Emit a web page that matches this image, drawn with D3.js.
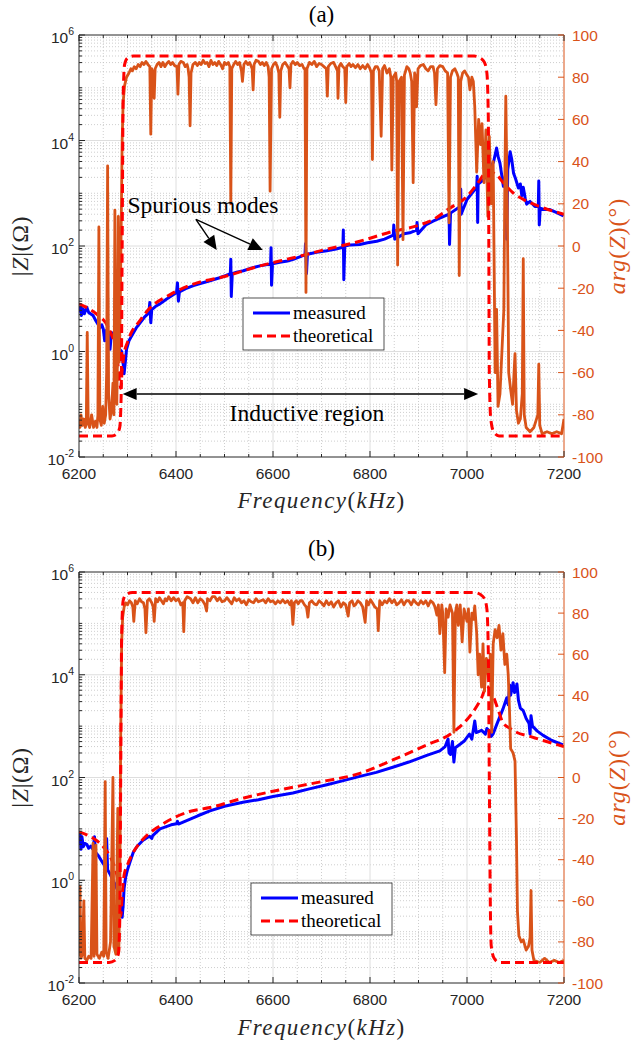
<!DOCTYPE html>
<html>
<head>
<meta charset="utf-8">
<script src="https://cdn.jsdelivr.net/npm/d3@7"></script>
<style>
  body { margin: 0; background: #fff; }
  svg { display: block; }
</style>
</head>
<body>
<svg id="fig" width="633" height="1047"></svg>
<script>
// ---------- Frequency axis ----------
const freqDomain = [6200, 7200];
const freqMajorTicks = [6200, 6400, 6600, 6800, 7000, 7200];
const magExpTicks = [-2, 0, 2, 4, 6];
const phaseTicks = [-100, -80, -60, -40, -20, 0, 20, 40, 60, 80, 100];
const seriesNames = ["measured", "theoretical"];

// ---------- Panel (a): |Z| in ohms, [kHz, ohm] ----------
const measMagA = [
  [6200, 5.5], [6203, 7.0], [6205, 4.8], [6208, 6.5], [6211, 5.2], [6216, 6.9], [6220, 5.5],
  [6229, 4.8], [6235, 3.8], [6240, 3.2], [6243, 2.8], [6247, 3.2], [6250, 2.7], [6253, 1.6],
  [6256, 2.5], [6260, 2.4], [6264, 1.1], [6267, 2.3], [6272, 2.0], [6276, 1.6], [6280, 1.7],
  [6284, 1.1], [6288, 1.0], [6291, 0.6], [6293, 0.38], [6296, 0.7], [6298, 1.1], [6303, 1.6],
  [6309, 2.0], [6318, 2.8], [6326, 3.5], [6336, 4.6], [6344, 5.4], [6346, 8.5], [6348, 3.5],
  [6350, 6.2], [6358, 7.2], [6367, 8.0], [6380, 9.8], [6395, 12], [6401, 13], [6403, 20],
  [6405, 9], [6407, 13.5], [6420, 15.5], [6436, 17.8], [6450, 19.5], [6470, 22], [6490, 25],
  [6505, 28], [6512, 30], [6513, 56], [6514, 11], [6516, 30], [6525, 32], [6539, 34],
  [6555, 38], [6573, 42], [6585, 44], [6595, 45], [6596, 93], [6597, 18], [6599, 46],
  [6614, 49], [6630, 52], [6642, 56], [6655, 62], [6666, 68], [6667, 110], [6669, 30],
  [6671, 70], [6690, 76], [6711, 81], [6730, 88], [6744, 95], [6745, 200], [6746, 23],
  [6748, 100], [6760, 105], [6779, 107], [6795, 115], [6814, 123], [6830, 135], [6848, 160],
  [6849, 250], [6851, 135], [6870, 170], [6882, 178], [6896, 200], [6897, 280], [6899, 170],
  [6915, 250], [6930, 295], [6945, 340], [6963, 400], [6964, 107], [6966, 420], [6986, 560],
  [6987, 1200], [6988, 400], [7000, 760], [7010, 1000], [7020, 1300], [7021, 2100],
  [7022, 280], [7023, 1500], [7034, 1800], [7047, 2800], [7055, 4000], [7061, 7200],
  [7064, 5000], [7068, 3700], [7075, 1350], [7080, 2400], [7082, 135], [7084, 2800],
  [7089, 6100], [7092, 4500], [7096, 2400], [7100, 1900], [7106, 1260], [7110, 1500],
  [7113, 900], [7116, 1300], [7120, 800], [7123, 620], [7130, 700], [7140, 560], [7147, 560],
  [7148, 1700], [7149, 250], [7151, 520], [7160, 490], [7171, 490], [7185, 430], [7199, 370]
];
const theoMagA = [
  [6200, 8], [6220, 6.5], [6240, 4.8], [6255, 3.5], [6265, 2.3], [6275, 1.2], [6280, 0.6],
  [6284, 0.25], [6286, 0.2], [6289, 0.45], [6293, 0.9], [6300, 1.5], [6310, 2.5], [6320, 3.3],
  [6345, 6.5], [6388, 12], [6436, 19], [6504, 27], [6573, 42], [6642, 60], [6711, 87],
  [6779, 123], [6848, 190], [6896, 240], [6930, 316], [6965, 525], [7000, 870], [7027, 1800],
  [7038, 2500], [7044, 2630], [7052, 2500], [7061, 2240], [7075, 1580], [7096, 1000],
  [7123, 710], [7158, 525], [7200, 400]
];
// ---------- Panel (a): arg(Z) in degrees, [kHz, deg] ----------
const measPhaseA = [
  [6200, -84], [6202, -86], [6204, -80], [6207, -85], [6210, -82], [6213, -86], [6215, -84],
  [6217, -41], [6219, -84], [6222, -86], [6226, -80], [6230, -86], [6234, -83], [6237, -86],
  [6239, -80], [6241, 9], [6243, -82], [6246, -85], [6249, -76], [6252, -84], [6255, -80],
  [6257, -60], [6259, 38], [6261, -70], [6264, -82], [6267, -78], [6270, -65], [6272, -80],
  [6274, 17], [6276, -60], [6278, -75], [6280, -40], [6281, 14], [6283, -55], [6285, -30],
  [6287, 10], [6289, 50], [6291, 68], [6294, 76], [6298, 80], [6303, 82], [6307, 84],
  [6310, 83], [6314, 85], [6318, 84], [6322, 86], [6326, 85], [6330, 87], [6334, 86],
  [6338, 87.5], [6342, 86], [6346, 85], [6348, 53], [6350, 84], [6353, 82], [6355, 70],
  [6357, 84], [6361, 86], [6365, 87], [6369, 85], [6373, 87], [6377, 85], [6381, 86.5],
  [6385, 87.5], [6389, 86], [6393, 87], [6397, 85.5], [6402, 85], [6404, 72], [6406, 86],
  [6410, 87.5], [6415, 87], [6419, 85], [6423, 86], [6425, 84], [6427, 80], [6429, 57],
  [6431, 82], [6435, 86], [6440, 87], [6444, 85.5], [6448, 87], [6452, 86], [6456, 88],
  [6460, 86.5], [6464, 87], [6468, 85], [6472, 88], [6476, 86], [6480, 87], [6484, 85.5],
  [6488, 87.5], [6492, 86], [6496, 84], [6500, 87], [6504, 86], [6508, 87], [6511, 85],
  [6513, 20], [6515, 84], [6519, 86], [6523, 87.5], [6527, 86], [6531, 87], [6535, 83],
  [6537, 78], [6540, 86], [6544, 87.5], [6548, 86], [6552, 87], [6557, 84], [6559, 74],
  [6561, 86], [6565, 88], [6570, 87.5], [6574, 86], [6578, 87], [6582, 85.5], [6586, 87],
  [6590, 85], [6592, 80], [6594, 26], [6597, 84], [6601, 86], [6605, 87], [6609, 85],
  [6612, 82], [6614, 61], [6616, 83], [6620, 86], [6625, 87], [6629, 85.5], [6633, 84],
  [6635, 75], [6637, 86], [6641, 87.5], [6646, 86], [6650, 87], [6655, 85.5], [6660, 86],
  [6664, 84], [6666, 84], [6668, -22], [6670, 84], [6675, 87], [6680, 86], [6685, 87.5],
  [6690, 85], [6695, 86.5], [6700, 86], [6705, 85], [6710, 84], [6712, 71], [6714, 85],
  [6719, 86.5], [6725, 87], [6729, 85], [6733, 83], [6734, 70], [6736, 85], [6740, 86.5],
  [6744, 85], [6748, 84], [6750, 68], [6752, 85], [6757, 86.5], [6761, 85], [6765, 86],
  [6770, 84.5], [6775, 86], [6780, 84], [6785, 85.5], [6790, 84], [6795, 86], [6799, 84.5],
  [6803, 82], [6805, 41], [6807, 83], [6811, 85], [6815, 85], [6819, 83], [6823, 52],
  [6826, 84], [6830, 85.5], [6835, 82], [6840, 84], [6843, 80], [6845, 36], [6848, 80],
  [6853, 82], [6855, 78], [6857, -9], [6860, 78], [6865, 80], [6868, 3], [6871, 81],
  [6876, 85], [6880, 84], [6883, 82], [6886, 78], [6889, 30], [6892, 82], [6894, 80],
  [6896, 66], [6899, 84], [6904, 85.5], [6910, 86], [6915, 84], [6920, 83], [6925, 85],
  [6930, 85], [6933, 82], [6936, 67], [6939, 84], [6944, 85.5], [6950, 85], [6955, 83],
  [6960, 82], [6963, 11], [6966, 80], [6970, 83], [6975, 84], [6979, 82], [6982, 80],
  [6984, -14], [6987, 78], [6991, 82], [6995, 83], [7000, 81], [7003, 80], [7006, 74],
  [7010, 80], [7013, 78], [7016, 66], [7020, 35], [7024, 60],
  [7028, 48], [7031, 58], [7035, 30], [7039, 55], [7043, 14], [7046, 52], [7050, 20],
  [7054, 40], [7058, -60], [7061, -30], [7064, -76], [7068, -70], [7072, -50], [7076, -30],
  [7078, 30], [7080, 71], [7083, 20], [7086, -60], [7090, -68], [7094, -75], [7097, -60],
  [7099, -51], [7102, -78], [7106, -84], [7110, -82], [7114, -70], [7116, -6], [7118, -80],
  [7122, -86], [7130, -88], [7138, -86], [7146, -80], [7148, -56], [7150, -85], [7155, -89],
  [7165, -88], [7175, -89], [7185, -88], [7195, -89], [7200, -82]
];
const theoPhaseA = [
  [6200, -90], [6268, -90], [6278, -89], [6284, -86], [6287, -70], [6289, 0], [6291, 70],
  [6294, 86], [6300, 89], [6312, 90], [7015, 90], [7028, 89], [7036, 87], [7041, 82],
  [7044, 60], [7045, 0], [7046, -60], [7049, -82], [7055, -88], [7066, -90], [7200, -90]
];

// ---------- Panel (b) ----------
const measMagB = [
  [6200, 5.6], [6202, 8], [6204, 4], [6206, 7], [6209, 4.5], [6212, 5.2], [6216, 5.0],
  [6220, 4.2], [6224, 4.6], [6229, 4.0], [6232, 7.0], [6234, 3.5], [6240, 3.0], [6245, 2.5],
  [6250, 2.1], [6255, 1.8], [6257, 6.5], [6259, 1.6], [6265, 1.26], [6270, 1.0], [6275, 0.8],
  [6280, 0.63], [6284, 0.4], [6287, 0.25], [6289, 0.19], [6291, 0.32], [6293, 0.7],
  [6296, 1.12], [6300, 1.6], [6306, 2.4], [6312, 3.5], [6320, 4.6], [6332, 6.0], [6345, 7.2],
  [6350, 6.5], [6352, 7.4], [6367, 10], [6390, 12], [6401, 12.6], [6403, 14], [6405, 12.4],
  [6422, 14.5], [6445, 18], [6470, 22.4], [6500, 27.5], [6538, 33], [6570, 37], [6600, 42.7],
  [6641, 50], [6675, 60], [6711, 72], [6745, 87], [6779, 105], [6813, 126], [6847, 158],
  [6880, 200], [6917, 270], [6944, 330], [6955, 400], [6961, 560], [6963, 300], [6966, 280],
  [6970, 500], [6973, 200], [6976, 380], [6985, 440], [6995, 520], [7005, 700], [7010, 560],
  [7016, 1260], [7019, 750], [7030, 830], [7038, 700], [7041, 900], [7045, 830], [7050, 630],
  [7054, 710], [7062, 1120], [7074, 2140], [7082, 3550], [7085, 2600], [7088, 6300],
  [7090, 4000], [7095, 7000], [7098, 4500], [7100, 5000], [7103, 6600], [7106, 3200],
  [7110, 2240], [7116, 2000], [7122, 1410], [7128, 1120], [7130, 700], [7132, 1600],
  [7135, 1000], [7145, 800], [7157, 660], [7175, 525], [7198, 430]
];
const theoMagB = [
  [6200, 8.7], [6230, 6.5], [6250, 4.5], [6265, 2.8], [6275, 1.6], [6280, 1.0], [6284, 0.4],
  [6286, 0.2], [6289, 0.5], [6293, 1.26], [6300, 2.0], [6312, 3.5], [6330, 6.0], [6367, 11.5],
  [6430, 22], [6470, 26], [6540, 40], [6600, 54], [6700, 83], [6779, 120], [6847, 220],
  [6917, 430], [6971, 760], [7012, 1860], [7030, 3550], [7041, 6000], [7048, 5000],
  [7054, 3800], [7065, 2000], [7074, 1170], [7090, 890], [7102, 760], [7130, 630],
  [7157, 525], [7200, 400]
];
const measPhaseB = [
  [6200, -87], [6202, -53], [6204, -88], [6207, -86], [6210, -60], [6212, -88], [6216, -89],
  [6220, -87], [6225, -88], [6229, -32], [6231, -87], [6235, -33], [6237, -86], [6242, -88],
  [6247, -85], [6251, -87], [6254, -2], [6256, -85], [6260, -88], [6265, -80], [6270, 0],
  [6272, -82], [6276, -86], [6280, -15], [6282, -85], [6284, -60], [6286, 20], [6288, 66],
  [6290, 78], [6293, 83], [6296, 85], [6300, 84], [6304, 86], [6308, 85], [6311, 83],
  [6313, 76], [6316, 86], [6320, 84.5], [6325, 87], [6329, 85.5], [6333, 85], [6336, 82],
  [6338, 70.5], [6341, 86], [6345, 87], [6350, 85], [6353, 83], [6355, 76], [6358, 87],
  [6362, 85.5], [6366, 87.5], [6370, 86], [6374, 84.5], [6378, 87], [6381, 86], [6385, 88],
  [6390, 86], [6395, 87.5], [6400, 86], [6405, 87], [6410, 84], [6414, 85], [6416, 71],
  [6418, 86], [6423, 88], [6430, 87], [6435, 85], [6440, 87.5], [6445, 85], [6450, 87],
  [6455, 86], [6460, 84], [6463, 81], [6465, 87], [6470, 86], [6475, 88], [6480, 88],
  [6485, 86], [6490, 87.5], [6495, 85.5], [6500, 86], [6505, 87.5], [6510, 86], [6515, 84.5],
  [6520, 87.5], [6525, 86], [6530, 87], [6535, 85], [6540, 86], [6545, 84], [6550, 86.5],
  [6555, 85.5], [6560, 85], [6565, 87], [6570, 85.5], [6575, 86], [6580, 86.5], [6585, 85],
  [6590, 87], [6595, 85.5], [6600, 86], [6605, 84.5], [6610, 86], [6615, 85], [6620, 86.5],
  [6625, 85], [6630, 86], [6635, 84], [6638, 86], [6641, 74.5], [6644, 85], [6648, 86],
  [6652, 84.5], [6656, 86], [6660, 86], [6665, 84], [6669, 83], [6672, 78], [6675, 85],
  [6680, 86], [6685, 84.5], [6690, 84], [6695, 86], [6700, 85], [6705, 83.5], [6710, 86],
  [6715, 84], [6720, 85.5], [6725, 83], [6730, 85], [6735, 86], [6740, 83], [6745, 85],
  [6750, 84], [6755, 78.5], [6758, 85], [6763, 86], [6767, 83.5], [6770, 84], [6775, 86],
  [6780, 85], [6785, 83], [6790, 75.5], [6793, 86], [6797, 84], [6801, 86.5], [6805, 85],
  [6810, 83], [6815, 82], [6817, 71.5], [6820, 86], [6825, 84], [6830, 86], [6835, 85],
  [6840, 87], [6845, 85], [6850, 86.5], [6855, 84], [6860, 85], [6865, 86.5], [6870, 84],
  [6875, 86], [6880, 86], [6885, 84], [6890, 86.5], [6895, 85], [6900, 84], [6905, 86],
  [6910, 84.5], [6915, 86], [6920, 83.5], [6925, 86], [6930, 85], [6934, 83], [6938, 79],
  [6941, 84], [6944, 70], [6948, 84], [6950, 80], [6954, 51], [6957, 82], [6961, 78],
  [6965, 84], [6970, 80], [6973, 22], [6976, 80], [6979, 84], [6982, 74], [6986, 84],
  [6990, 66], [6994, 82], [7000, 76], [7003, 82], [7006, 61], [7010, 80], [7013, 77],
  [7016, 83.5], [7020, 70], [7023, 50], [7026, 60],
  [7030, 44], [7033, 65], [7036, 42], [7040, 58], [7045, 48], [7048, 60], [7051, 22],
  [7054, 65], [7058, 72], [7062, 68], [7066, 74], [7070, 62], [7074, 70], [7078, 55],
  [7082, 60], [7085, 50], [7088, 30], [7090, 14], [7095, 12], [7099, 8], [7102, -30],
  [7104, -65], [7107, -77], [7112, -80], [7116, -79], [7122, -84], [7127, -82], [7130, -78],
  [7132, -55], [7134, -84], [7138, -89], [7150, -90], [7160, -88], [7170, -90], [7180, -89],
  [7190, -90], [7200, -89]
];
const theoPhaseB = [
  [6200, -90], [6262, -90], [6274, -89], [6281, -86], [6284, -70], [6286, 0], [6288, 70],
  [6291, 86], [6297, 89], [6310, 90], [7015, 90], [7028, 89], [7036, 87], [7041, 82],
  [7044, 60], [7046, 0], [7048, -60], [7050, -82], [7056, -88], [7066, -90], [7200, -90]
];

// ---------- Drawing ----------
const COL = { blue: "#0000ff", red: "#ff0000", orange: "#d95319", ink: "#262626" };
const SANS = "'Liberation Sans', Arial, sans-serif";
const SERIF = "'Liberation Serif', 'Times New Roman', serif";
const svg = d3.select("#fig");
svg.append("rect").attr("width", 633).attr("height", 1047).attr("fill", "#fff");

function drawPanel(p) {
  const { left, right, top, bottom, id } = p;
  const g = svg.append("g");
  const x = d3.scaleLinear().domain(freqDomain).range([left, right]);
  const yMag = d3.scaleLog().domain([1e-2, 1e6]).range([bottom, top]);
  const yPh = d3.scaleLinear().domain([-100, 100]).range([bottom, top]);

  // grid: minor dotted, then major solid
  const xMinor = d3.range(6250, 7200, 50).filter(f => f % 200 !== 0);
  const yMinor = [];
  for (let e = -2; e < 6; e++) for (let k = 1; k <= 9; k++) {
    if (k === 1 && e % 2 === 0) continue;
    yMinor.push(k * Math.pow(10, e));
  }
  const grid = g.append("g");
  grid.selectAll(".gxm").data(xMinor).join("line")
    .attr("x1", d => x(d)).attr("x2", d => x(d)).attr("y1", top).attr("y2", bottom)
    .attr("stroke", "#c2c2c2").attr("stroke-width", 0.8).attr("stroke-dasharray", "1,2");
  grid.selectAll(".gym").data(yMinor).join("line")
    .attr("x1", left).attr("x2", right).attr("y1", d => yMag(d)).attr("y2", d => yMag(d))
    .attr("stroke", "#c2c2c2").attr("stroke-width", 0.8).attr("stroke-dasharray", "1,2");
  grid.selectAll(".gx").data(freqMajorTicks.slice(1, -1)).join("line")
    .attr("x1", d => x(d)).attr("x2", d => x(d)).attr("y1", top).attr("y2", bottom)
    .attr("stroke", "#dedede").attr("stroke-width", 1);
  grid.selectAll(".gy").data([1, 1e2, 1e4]).join("line")
    .attr("x1", left).attr("x2", right).attr("y1", d => yMag(d)).attr("y2", d => yMag(d))
    .attr("stroke", "#dedede").attr("stroke-width", 1);

  // data
  const clipId = "clip" + id;
  svg.append("clipPath").attr("id", clipId).append("rect")
    .attr("x", left).attr("y", top - 2).attr("width", right - left).attr("height", bottom - top + 4);
  const data = g.append("g").attr("clip-path", `url(#${clipId})`);
  const lineMag = d3.line().x(d => x(d[0])).y(d => yMag(d[1]));
  const lineMagSmooth = d3.line().x(d => x(d[0])).y(d => yMag(d[1])).curve(d3.curveMonotoneX);
  const linePh = d3.line().x(d => x(d[0])).y(d => yPh(d[1]));
  const linePhSmooth = d3.line().x(d => x(d[0])).y(d => yPh(d[1])).curve(d3.curveMonotoneX);

  data.append("path").attr("d", lineMag(p.measMag)).attr("fill", "none")
    .attr("stroke", COL.blue).attr("stroke-width", 3).attr("stroke-linejoin", "round");
  data.append("path").attr("d", lineMagSmooth(p.theoMag)).attr("fill", "none")
    .attr("stroke", COL.red).attr("stroke-width", 3).attr("stroke-dasharray", "9,5");
  data.append("path").attr("d", linePh(p.measPhase)).attr("fill", "none")
    .attr("stroke", COL.orange).attr("stroke-width", 2.8).attr("stroke-linejoin", "round");
  data.append("path").attr("d", linePhSmooth(p.theoPhase)).attr("fill", "none")
    .attr("stroke", COL.red).attr("stroke-width", 3).attr("stroke-dasharray", "9,5");

  // axes box
  const ax = g.append("g");
  ax.append("line").attr("x1", left).attr("x2", right).attr("y1", bottom).attr("y2", bottom).attr("stroke", COL.ink);
  ax.append("line").attr("x1", left).attr("x2", right).attr("y1", top).attr("y2", top).attr("stroke", COL.ink);
  ax.append("line").attr("x1", left).attr("x2", left).attr("y1", top).attr("y2", bottom).attr("stroke", COL.ink);
  ax.append("line").attr("x1", right).attr("x2", right).attr("y1", top).attr("y2", bottom).attr("stroke", COL.orange);

  // x ticks (bottom and top, inward)
  const xTickSet = freqMajorTicks.map(v => [v, 6]).concat(xMinor.map(v => [v, 3]));
  xTickSet.forEach(([v, len]) => {
    ax.append("line").attr("x1", x(v)).attr("x2", x(v)).attr("y1", bottom).attr("y2", bottom - len).attr("stroke", COL.ink);
    ax.append("line").attr("x1", x(v)).attr("x2", x(v)).attr("y1", top).attr("y2", top + len).attr("stroke", COL.ink);
  });
  ax.selectAll(".xl").data(freqMajorTicks).join("text")
    .attr("x", d => x(d)).attr("y", bottom + 22).attr("text-anchor", "middle")
    .attr("font-family", SANS).attr("font-size", 15.5).attr("fill", COL.ink).text(d => d);

  // left log ticks
  magExpTicks.forEach(e => {
    const yy = yMag(Math.pow(10, e));
    ax.append("line").attr("x1", left).attr("x2", left + 6).attr("y1", yy).attr("y2", yy).attr("stroke", COL.ink);
  });
  yMinor.forEach(v => {
    ax.append("line").attr("x1", left).attr("x2", left + 3).attr("y1", yMag(v)).attr("y2", yMag(v)).attr("stroke", COL.ink);
  });
  const ml = ax.selectAll(".yl").data(magExpTicks).join("text")
    .attr("x", left - 5).attr("y", d => yMag(Math.pow(10, d)) + 8).attr("text-anchor", "end")
    .attr("font-family", SANS).attr("font-size", 15.5).attr("fill", COL.ink);
  ml.append("tspan").text("10");
  ml.append("tspan").attr("dy", -8).attr("font-size", 10.5).text(d => d);

  // right phase ticks
  phaseTicks.forEach(v => {
    ax.append("line").attr("x1", right).attr("x2", right - 6).attr("y1", yPh(v)).attr("y2", yPh(v)).attr("stroke", COL.orange);
  });
  ax.selectAll(".pl").data(phaseTicks).join("text")
    .attr("x", right + 8).attr("y", d => yPh(d) + 5.5).attr("text-anchor", "start")
    .attr("font-family", SANS).attr("font-size", 15.5).attr("fill", COL.orange).text(d => d);

  // axis labels
  const xl = g.append("text").attr("x", (left + right) / 2).attr("y", p.xLabelY)
    .attr("text-anchor", "middle").attr("font-family", SERIF).attr("font-size", 23)
    .attr("fill", COL.ink).attr("letter-spacing", 1.4);
  xl.append("tspan").attr("font-style", "italic").text("Frequency");
  xl.append("tspan").text("(");
  xl.append("tspan").attr("font-style", "italic").text("kHz");
  xl.append("tspan").text(")");

  const cy = yMag(100);
  const yl = g.append("text").attr("transform", `translate(20,${cy}) rotate(-90)`)
    .attr("text-anchor", "middle").attr("font-family", SERIF).attr("font-size", 24)
    .attr("fill", COL.ink).attr("dy", 8).attr("letter-spacing", 0.6);
  yl.append("tspan").text("|");
  yl.append("tspan").attr("font-style", "italic").text("Z");
  yl.append("tspan").text("|(Ω)");

  const yr = g.append("text").attr("transform", `translate(617,${cy}) rotate(-90)`)
    .attr("text-anchor", "middle").attr("font-family", SERIF).attr("font-size", 24)
    .attr("fill", COL.orange).attr("dy", 8).attr("letter-spacing", 1);
  yr.append("tspan").attr("font-style", "italic").text("arg");
  yr.append("tspan").text("(");
  yr.append("tspan").attr("font-style", "italic").text("Z");
  yr.append("tspan").text(")(°)");

  // panel title
  g.append("text").attr("x", (left + right) / 2).attr("y", p.titleY).attr("text-anchor", "middle")
    .attr("font-family", SERIF).attr("font-size", 23).attr("fill", "#000").text(p.title);

  // legend
  const lg = g.append("g").attr("transform", `translate(${p.legend[0]},${p.legend[1]})`);
  lg.append("rect").attr("width", 141).attr("height", 52).attr("fill", "#fff")
    .attr("stroke", COL.ink).attr("stroke-width", 0.8);
  lg.append("line").attr("x1", 10).attr("x2", 47).attr("y1", 15).attr("y2", 15)
    .attr("stroke", COL.blue).attr("stroke-width", 3);
  lg.append("line").attr("x1", 10).attr("x2", 47).attr("y1", 38).attr("y2", 38)
    .attr("stroke", COL.red).attr("stroke-width", 3).attr("stroke-dasharray", "9,5");
  lg.selectAll(".lt").data(seriesNames).join("text")
    .attr("x", 50).attr("y", (d, i) => 21 + i * 23)
    .attr("font-family", SERIF).attr("font-size", 19).attr("fill", "#000").text(d => d);

  return { g, x, yMag, yPh };
}

function arrow(g, x1, y1, x2, y2, len, half) {
  const a = Math.atan2(y2 - y1, x2 - x1);
  const bx = x2 - len * Math.cos(a), by = y2 - len * Math.sin(a);
  g.append("line").attr("x1", x1).attr("y1", y1).attr("x2", bx).attr("y2", by)
    .attr("stroke", "#000").attr("stroke-width", 1.4);
  const pts = [[x2, y2],
    [bx + half * Math.sin(a), by - half * Math.cos(a)],
    [bx - half * Math.sin(a), by + half * Math.cos(a)]];
  g.append("polygon").attr("points", pts.map(q => q.join(",")).join(" ")).attr("fill", "#000");
}

const A = drawPanel({
  id: "a", left: 79, right: 564, top: 35, bottom: 457, title: "(a)", titleY: 22, xLabelY: 508,
  legend: [243, 298], measMag: measMagA, theoMag: theoMagA, measPhase: measPhaseA, theoPhase: theoPhaseA
});
const B = drawPanel({
  id: "b", left: 79, right: 564, top: 572, bottom: 983, title: "(b)", titleY: 556, xLabelY: 1035,
  legend: [251, 883], measMag: measMagB, theoMag: theoMagB, measPhase: measPhaseB, theoPhase: theoPhaseB
});

// annotations in panel (a): callouts placed in data coordinates
const ann = svg.append("g");
ann.append("text").attr("x", A.x(6300)).attr("y", 213).attr("font-family", SERIF).attr("font-size", 23.5)
  .attr("fill", "#000").text("Spurious modes");
const tail = [A.x(6441), A.yMag(320)];
arrow(ann, tail[0], tail[1], A.x(6484), A.yMag(84), 14, 6.5);
arrow(ann, tail[0], tail[1], A.x(6579), A.yMag(84), 14, 6.5);
// inductive region: double-headed arrow between the two resonances
const indY = A.yMag(0.156);
arrow(ann, 300, indY, A.x(6290), indY, 14, 6);
arrow(ann, 300, indY, A.x(7023), indY, 14, 6);
ann.append("text").attr("x", A.x(6670)).attr("y", indY + 27).attr("text-anchor", "middle")
  .attr("font-family", SERIF).attr("font-size", 23.5).attr("fill", "#000").text("Inductive region");
</script>
</body>
</html>
